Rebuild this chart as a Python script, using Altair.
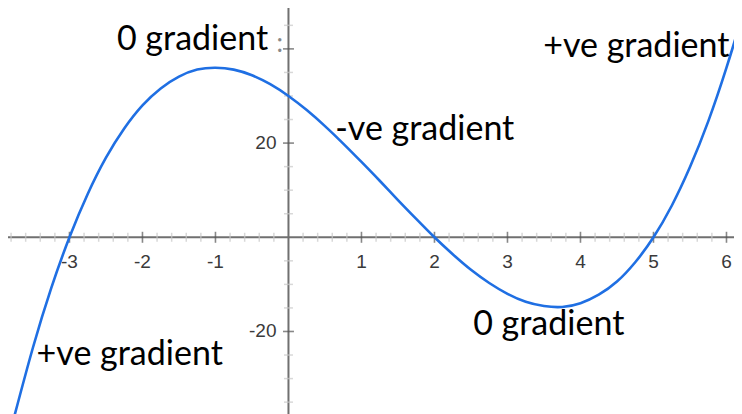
import altair as alt
import pandas as pd

# ---- data ----
curve_x = [-3.75, -3.5, -3.25, -3.0, -2.75, -2.5, -2.25, -2.0, -1.75, -1.5, -1.25, -1.0,
           -0.75, -0.5, -0.25, 0.0, 0.25, 0.5, 0.75, 1.0, 1.25, 1.5, 1.75, 2.0, 2.25, 2.5,
           2.75, 3.0, 3.25, 3.5, 3.75, 4.0, 4.25, 4.5, 4.75, 5.0, 5.25, 5.5, 5.75, 6.0, 6.25, 6.5]
curve_y = [-37.7, -23.4, -10.8, 0.0, 9.2, 16.9, 23.1, 28.0, 31.6, 34.1, 35.6, 36.0,
           35.6, 34.4, 32.5, 30.0, 27.0, 23.6, 19.9, 16.0, 12.0, 7.9, 3.9, 0.0, -3.6, -6.9,
           -9.7, -12.0, -13.7, -14.6, -14.8, -14.0, -12.2, -9.4, -5.3, 0.0, 6.7, 14.9, 24.6, 36.0, 49.1, 64.1]

x_major = [-3, -2, -1, 1, 2, 3, 4, 5, 6]
x_labels = ["-3", "-2", "-1", "1", "2", "3", "4", "5", "6"]
x_minor = [-3.8, -3.6, -3.4, -3.2, -2.8, -2.6, -2.4, -2.2, -1.8, -1.6, -1.4, -1.2,
           -0.8, -0.6, -0.4, -0.2, 0.2, 0.4, 0.6, 0.8, 1.2, 1.4, 1.6, 1.8, 2.2, 2.4,
           2.6, 2.8, 3.2, 3.4, 3.6, 3.8, 4.2, 4.4, 4.6, 4.8, 5.2, 5.4, 5.6, 5.8, 6.2]
y_major = [-20, 20, 40]
y_labeled = [-20, 20]
y_labels = ["-20", "20"]
y_minor = [-35, -30, -25, -15, -10, -5, 5, 10, 15, 25, 30, 35, 45]

note_text = ["0 gradient", "-ve gradient", "+ve gradient", "+ve gradient", "0 gradient"]
note_x = [-2.35, 0.64, 3.49, -3.45, 2.53]
note_y = [39.8, 20.7, 38.3, -27.1, -20.7]

# ---- tables ----
curve = pd.DataFrame({"x": curve_x, "y": curve_y})
xmaj = pd.DataFrame({"x": x_major, "label": x_labels, "y": [0] * len(x_major)})
xmin = pd.DataFrame({"x": x_minor, "y": [0] * len(x_minor)})
ymaj = pd.DataFrame({"y": y_major, "x": [0] * len(y_major)})
ylab = pd.DataFrame({"y": y_labeled, "label": y_labels, "x": [0] * len(y_labeled)})
ymin = pd.DataFrame({"y": y_minor, "x": [0] * len(y_minor)})
origin = pd.DataFrame({"x": [0], "y": [0]})
notes = pd.DataFrame({"x": note_x, "y": note_y, "text": note_text})
colon = pd.DataFrame({"x": [-0.12], "y": [39.3], "text": [":"]})

W, H = 726, 406
xs = alt.Scale(domain=[-3.842, 6.103], nice=False, zero=False)
ys = alt.Scale(domain=[-37.52, 48.68], nice=False, zero=False)

X = alt.X("x:Q", scale=xs, axis=None)
Y = alt.Y("y:Q", scale=ys, axis=None)

AX = "#707070"

x_axis = alt.Chart(origin).mark_rule(color=AX, strokeWidth=2).encode(y=Y)
y_axis = alt.Chart(origin).mark_rule(color=AX, strokeWidth=2).encode(x=X)

xminor_t = alt.Chart(xmin).mark_tick(orient="vertical", color="#c8c8c8", size=9, thickness=1.5).encode(x=X, y=Y)
xmajor_t = alt.Chart(xmaj).mark_tick(orient="vertical", color="#555555", size=11, thickness=1.6).encode(x=X, y=Y)
yminor_t = alt.Chart(ymin).mark_tick(orient="horizontal", color="#c8c8c8", size=9, thickness=1.5).encode(x=X, y=Y)
ymajor_t = alt.Chart(ymaj).mark_tick(orient="horizontal", color="#555555", size=11, thickness=1.6).encode(x=X, y=Y)

xlab_t = alt.Chart(xmaj).mark_text(
    font="Liberation Sans", fontSize=19, color="#3a3a3a", baseline="alphabetic", align="center", dy=30.5
).encode(x=X, y=Y, text="label:N")
ylab_t = alt.Chart(ylab).mark_text(
    font="Liberation Sans", fontSize=19, color="#3a3a3a", baseline="middle", align="right", dx=-12
).encode(x=X, y=Y, text="label:N")

line = alt.Chart(curve).mark_line(
    color="#1f6fe3", strokeWidth=2.6, interpolate="natural", clip=True
).encode(x=X, y=Y)

note_t = alt.Chart(notes).mark_text(
    font="Lato", fontSize=34, color="#000000", align="left", baseline="alphabetic"
).encode(x=X, y=Y, text="text:N")
colon_t = alt.Chart(colon).mark_text(
    font="Lato", fontSize=26, color="#888888", align="center", baseline="alphabetic"
).encode(x=X, y=Y, text="text:N")

chart = alt.layer(
    x_axis, y_axis, xminor_t, yminor_t, xmajor_t, ymajor_t, xlab_t, ylab_t, line, note_t, colon_t
).properties(
    width=W, height=H, padding=0, autosize=alt.AutoSizeParams(type="none"), background="white"
).configure_view(stroke=None)

chart.save("out.html", embed_options={"renderer": "svg", "actions": False})
